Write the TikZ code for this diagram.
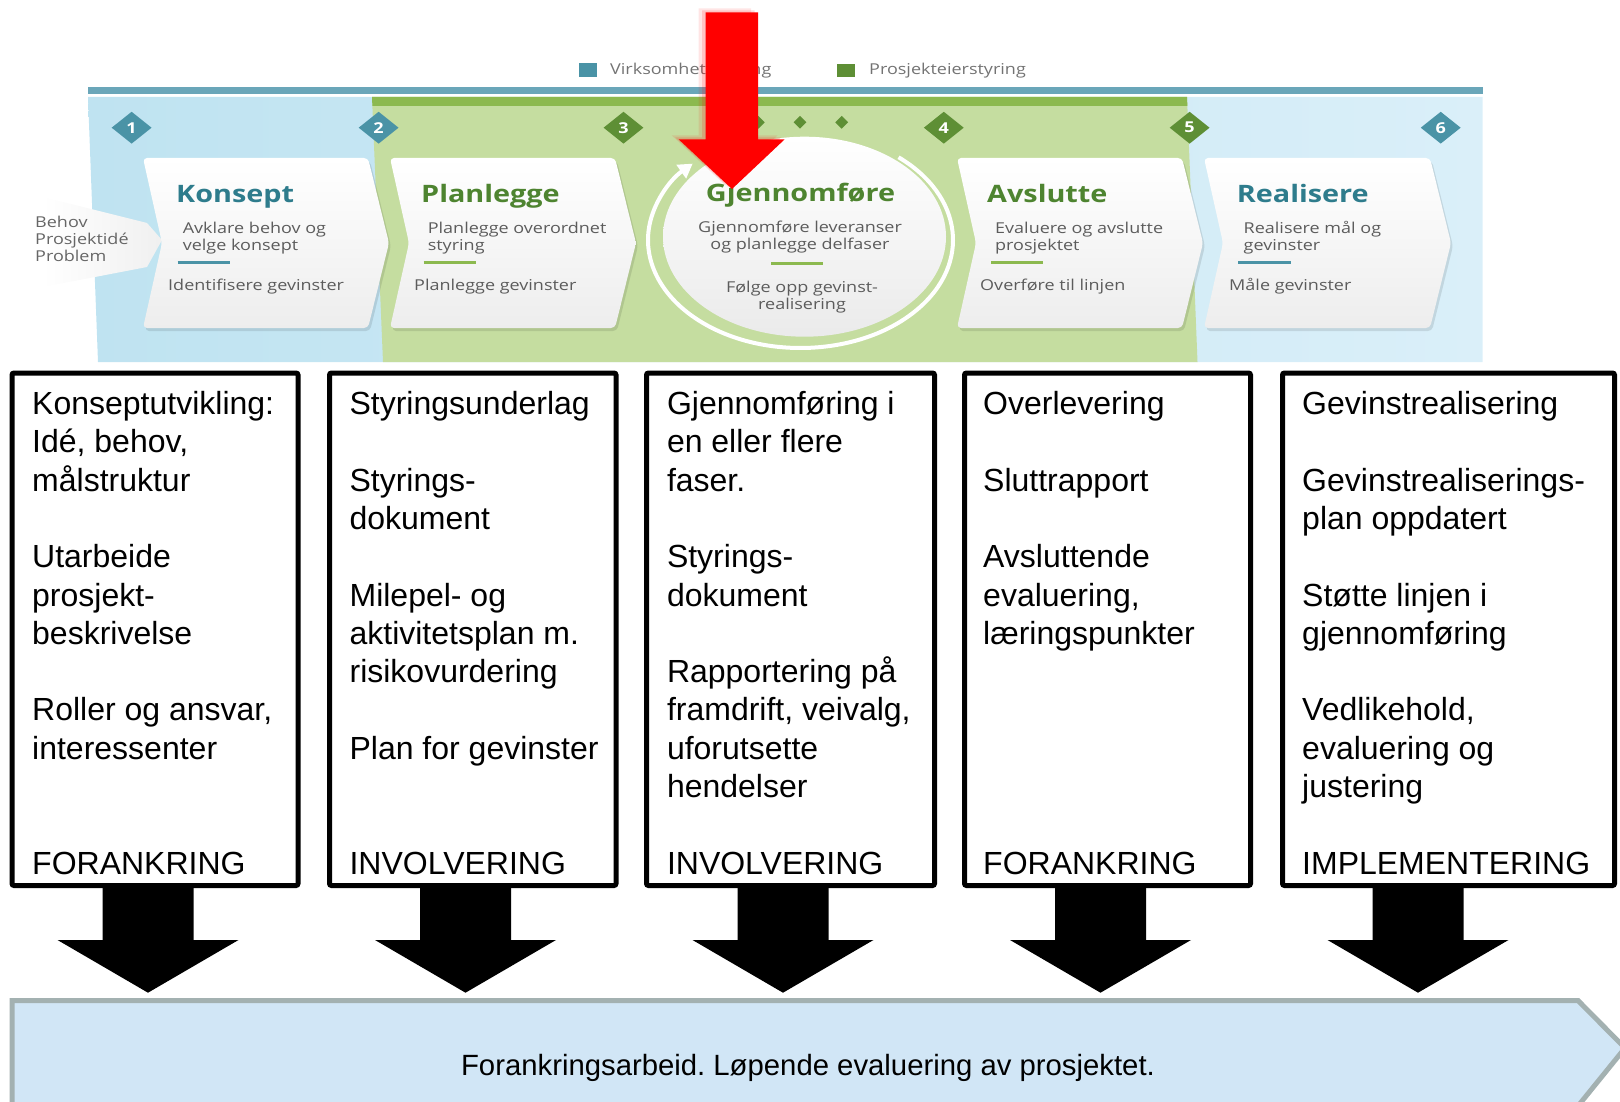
\documentclass[tikz,border=0pt]{standalone}
\usepackage{fontspec}
\setmainfont{Liberation Sans}
\newfontfamily\osans[FakeStretch=1.2]{Open Sans}
\usetikzlibrary{shapes.geometric,arrows.meta,calc}
\frenchspacing
\definecolor{tealbar}{HTML}{6AA6B9}
\definecolor{blueL}{HTML}{BFE3F1}
\definecolor{blueR}{HTML}{DAEFF9}
\definecolor{greenbg}{HTML}{C5DDA0}
\definecolor{greenbar}{HTML}{8CB94F}
\definecolor{teald}{HTML}{4A93A6}
\definecolor{greend}{HTML}{5E8F35}
\definecolor{tealtxt}{HTML}{2E7C8C}
\definecolor{greentxt}{HTML}{4E8430}
\definecolor{graytxt}{HTML}{5C5C5C}
\definecolor{bannerfill}{HTML}{D1E6F6}
\definecolor{bannerline}{HTML}{A3B1B1}
\begin{document}
\frenchspacing
\begin{tikzpicture}[x=1pt,y=-1pt,
  boxframe/.style={draw=black, line width=5pt, rounded corners=2pt, fill=white, inner sep=0pt, outer sep=0pt, anchor=north west},
  boxtext/.style={anchor=base west, inner sep=0pt, font=\fontsize{32}{38.3}\selectfont},
  cardtitle/.style={anchor=base west, inner sep=0pt, font=\osans\bfseries\fontsize{24}{28}\selectfont},
  cardbody/.style={anchor=base west, inner sep=0pt, text=graytxt, font=\osans\fontsize{15}{17}\selectfont},
  legendtext/.style={anchor=base west, inner sep=0pt, text=black!55, font=\osans\fontsize{15}{17}\selectfont},
  dia/.style={diamond, minimum width=40pt, minimum height=32pt, inner sep=0pt, text=white, font=\osans\bfseries\fontsize{15}{15}\selectfont},
  sdia/.style={diamond, minimum width=13pt, minimum height=13pt, inner sep=0pt, fill=greend},
  blockarrow/.style={fill=black},
]
\useasboundingbox (0,0) rectangle (1620,1102);
\clip (0,0) rectangle (1620,1102);

% ---------- top infographic ----------
\fill[teald] (579,63) rectangle (597,77);
\node[legendtext] (lg1) at (610,75) {Virksomhetsstyring};
\fill[greend] (837,64) rectangle (855,77);
\node[legendtext] (lg2) at (869,75) {Prosjekteierstyring};

\fill[tealbar] (88,87) rectangle (1482.5,94);
\shade[left color=blueL, right color=blueR] (88,97) -- (1482.5,97) -- (1482.5,362) -- (98,362) -- cycle;
\fill[greenbg] (372,97) -- (1187,97) -- (1197.5,362) -- (383,362) -- cycle;
\fill[greenbar] (372,97) -- (1187,97) -- (1187.4,106) -- (372.4,106) -- cycle;

% Behov wedge
\shade[left color=white, right color=black!6] (43,197) -- (147,223) -- (162,240) -- (147,267) -- (43,287) -- cycle;
\node[cardbody, text=black!60] (behov) at (35,227.5) {\begin{tabular}[t]{@{}l@{}}Behov\\Prosjektidé\\Problem\end{tabular}};

% cards
\foreach \L/\R in {143/368,390/615,957/1182,1204/1430}{
  \fill[black, opacity=0.10, rounded corners=4pt] ({\L+2},161) -- ({\R+2},161) -- ({\R+23},246) -- ({\R+2},331) -- ({\L+2},331) -- ({\L+21},246) -- cycle;
  \shade[top color=white, bottom color=black!7, rounded corners=4pt] (\L,158) -- (\R,158) -- ({\R+21},243) -- (\R,328) -- (\L,328) -- ({\L+19},243) -- cycle;
}

% Gjennomfore circle
\coordinate (ringc) at (800.5,240);
\shade[top color=white, bottom color=black!8] (804.5,236.7) ellipse [x radius=141.5, y radius=100];
\draw[white, line width=4pt, -{Triangle[length=14pt, width=16pt]}] (ringc) ++(-50:152.5 and 108) arc[start angle=-50, end angle=225, x radius=152.5, y radius=108];

% diamonds
\node[dia, fill=teald] (d1) at (131.6,127.7) {1};
\node[dia, fill=teald] (d2) at (378.6,127.7) {2};
\node[dia, fill=greend] (d3) at (623.5,127.7) {3};
\node[dia, fill=greend] (d4) at (943.8,127.7) {4};
\node[dia, fill=greend] (d5) at (1189.6,127.7) {5};
\node[dia, fill=teald] (d6) at (1440.7,127.7) {6};
\node[sdia] (s1) at (758.3,122.3) {};
\node[sdia] (s2) at (800,122.3) {};
\node[sdia] (s3) at (841.7,122.3) {};

% card texts
\node[cardtitle, text=tealtxt] (k1) at (176,203) {Konsept};
\node[cardbody] (k2) at (182.6,233.3) {\begin{tabular}[t]{@{}l@{}}Avklare behov og\\velge konsept\end{tabular}};
\draw[teald, line width=3pt] (177.5,262.7) -- (229.6,262.7);
\node[cardbody] (k3) at (168,290) {Identifisere gevinster};

\node[cardtitle, text=greentxt] (p1) at (421,203) {Planlegge};
\node[cardbody] (p2) at (427.6,233.3) {\begin{tabular}[t]{@{}l@{}}Planlegge overordnet\\styring\end{tabular}};
\draw[greenbar, line width=3pt] (423.5,262.7) -- (475.5,262.7);
\node[cardbody] (p3) at (414,290) {Planlegge gevinster};

\node[cardtitle, text=greentxt, anchor=base] (g1) at (800.5,201.7) {Gjennomføre};
\node[cardbody, anchor=base] (g2) at (800,233) {\begin{tabular}[t]{@{}c@{}}Gjennomføre leveranser\\og planlegge delfaser\end{tabular}};
\draw[greenbar, line width=3pt] (771,263.3) -- (823,263.3);
\node[cardbody, anchor=base] (g3) at (802,292.5) {\begin{tabular}[t]{@{}c@{}}Følge opp gevinst-\\realisering\end{tabular}};

\node[cardtitle, text=greentxt] (a1) at (987,203) {Avslutte};
\node[cardbody] (a2) at (995,233.3) {\begin{tabular}[t]{@{}l@{}}Evaluere og avslutte\\prosjektet\end{tabular}};
\draw[greenbar, line width=3pt] (991,262.7) -- (1043,262.7);
\node[cardbody] (a3) at (980,290) {Overføre til linjen};

\node[cardtitle, text=tealtxt] (r1) at (1236.7,203) {Realisere};
\node[cardbody] (r2) at (1243.5,233.3) {\begin{tabular}[t]{@{}l@{}}Realisere mål og\\gevinster\end{tabular}};
\draw[teald, line width=3pt] (1238,262.7) -- (1290.6,262.7);
\node[cardbody] (r3) at (1229,290) {Måle gevinster};

% red arrow with soft glow
\fill[red, opacity=0.10] (698.7,8.3) -- (751,8.3) -- (751,135.3) -- (777.7,135.3) -- (725,185) -- (671.6,135.3) -- (698.7,135.3) -- cycle;
\fill[red, opacity=0.15] (702.2,10.3) -- (754.5,10.3) -- (754.5,137.3) -- (781.2,137.3) -- (728.5,187) -- (675.1,137.3) -- (702.2,137.3) -- cycle;
\fill[red] (705.7,12.3) -- (758,12.3) -- (758,139.3) -- (784.7,139.3) -- (732,189) -- (678.6,139.3) -- (705.7,139.3) -- cycle;

% ---------- lower boxes ----------
\node[boxframe, minimum width=286pt, minimum height=512.5pt] (b1) at (12,373) {};
\node[boxframe, minimum width=286.5pt, minimum height=512.5pt] (b2) at (329.5,373) {};
\node[boxframe, minimum width=288pt, minimum height=512.5pt] (b3) at (646.5,373) {};
\node[boxframe, minimum width=286pt, minimum height=512.5pt] (b4) at (964.5,373) {};
\node[boxframe, minimum width=332pt, minimum height=512.5pt] (b5) at (1282.5,373) {};

\node[boxtext] (t1) at (32,414.5) {\begin{tabular}[t]{@{}l@{}}Konseptutvikling:\\Idé, behov,\\målstruktur\\ \\Utarbeide\\prosjekt-\\beskrivelse\\ \\Roller og ansvar,\\interessenter\end{tabular}};
\node[boxtext] (t2) at (349.4,414.5) {\begin{tabular}[t]{@{}l@{}}Styringsunderlag\\ \\Styrings-\\dokument\\ \\Milepel- og\\aktivitetsplan m.\\risikovurdering\\ \\Plan for gevinster\end{tabular}};
\node[boxtext] (t3) at (666.8,414.5) {\begin{tabular}[t]{@{}l@{}}Gjennomføring i\\en eller flere\\faser.\\ \\Styrings-\\dokument\\ \\Rapportering på\\framdrift, veivalg,\\uforutsette\\hendelser\end{tabular}};
\node[boxtext] (t4) at (983,414.5) {\begin{tabular}[t]{@{}l@{}}Overlevering\\ \\Sluttrapport\\ \\Avsluttende\\evaluering,\\læringspunkter\end{tabular}};
\node[boxtext] (t5) at (1302,414.5) {\begin{tabular}[t]{@{}l@{}}Gevinstrealisering\\ \\Gevinstrealiserings-\\plan oppdatert\\ \\Støtte linjen i\\gjennomføring\\ \\Vedlikehold,\\evaluering og\\justering\end{tabular}};

\node[boxtext] (l1) at (32,874) {FORANKRING};
\node[boxtext] (l2) at (349.4,874) {INVOLVERING};
\node[boxtext] (l3) at (666.8,874) {INVOLVERING};
\node[boxtext] (l4) at (983,874) {FORANKRING};
\node[boxtext] (l5) at (1302,874) {IMPLEMENTERING};

% ---------- banner ----------
\draw[line width=5pt, draw=bannerline, fill=bannerfill] (12,1000.5) -- (1578,1000.5) -- (1625,1048) -- (1578,1106) -- (12,1106) -- cycle;
\node[anchor=base, inner sep=0pt, font=\fontsize{29.3}{34}\selectfont] (banner) at (808,1075) {Forankringsarbeid. Løpende evaluering av prosjektet.};
\coordinate (bannertop) at (808,1000.5);

% ---------- block arrows ----------
\foreach \x/\i in {148/1,465.5/2,783/3,1100.5/4,1418/5}{
  \coordinate (as\i) at (\x,888);
  \coordinate (at\i) at (\x,992.7);
  \fill[blockarrow] (as\i) ++(-45.5,0) -- ++(91,0) -- ++(0,52) -- ++(45,0) -- (at\i) -- ($(as\i)+(-90.5,52)$) -- ++(45,0) -- cycle;
}
\end{tikzpicture}
\end{document}
